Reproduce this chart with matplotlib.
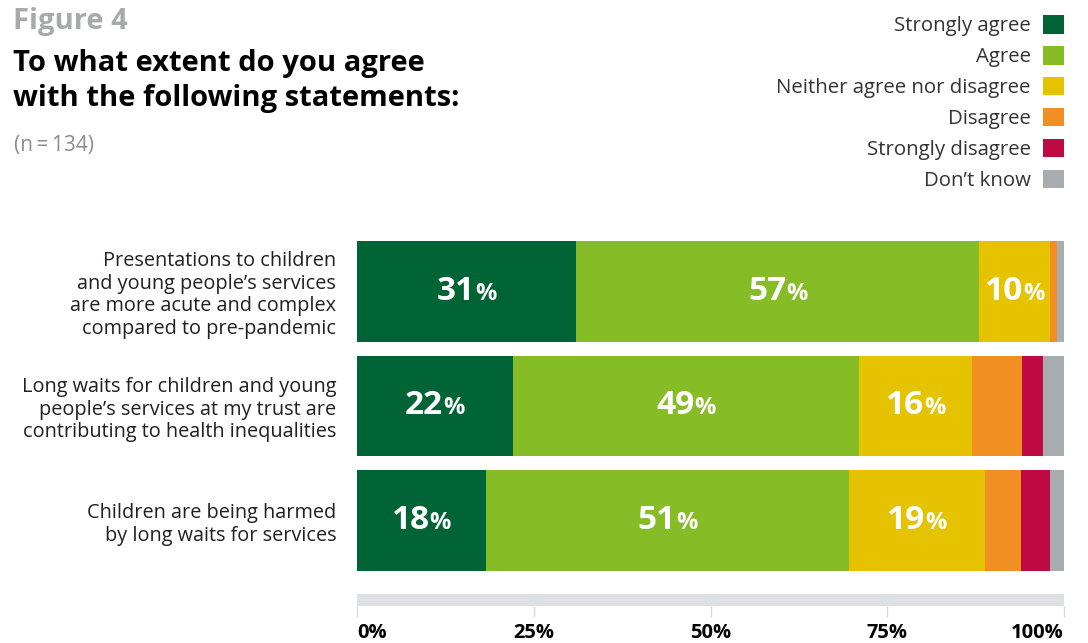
"""Stacked 100% bar chart: agreement with statements about children's services."""

import matplotlib

matplotlib.use("Agg")
import matplotlib.pyplot as plt  # noqa: E402
from matplotlib.offsetbox import AnnotationBbox, HPacker, TextArea  # noqa: E402
from matplotlib.patches import Patch  # noqa: E402

plt.rcParams["font.family"] = ["Open Sans", "DejaVu Sans"]

# ---- data -----------------------------------------------------------------
statements = [
    "Presentations to children\nand young people\u2019s services\nare more acute and complex\ncompared to pre-pandemic",
    "Long waits for children and young\npeople\u2019s services at my trust are\ncontributing to health inequalities",
    "Children are being harmed\nby long waits for services",
]
responses = [
    "Strongly agree",
    "Agree",
    "Neither agree nor disagree",
    "Disagree",
    "Strongly disagree",
    "Don\u2019t know",
]
strongly_agree = [31, 22, 18.2]
agree = [57, 49, 51.4]
neither = [10, 16, 19.2]
disagree = [1, 7, 5.1]
strongly_disagree = [0, 3, 4.1]
dont_know = [1, 3, 2.0]
x_ticks = [0, 25, 50, 75, 100]

series = [strongly_agree, agree, neither, disagree, strongly_disagree, dont_know]
colors = ["#006437", "#86bc25", "#e5c300", "#f18f22", "#be0a43", "#a9acaf"]

W, H = 1088, 643
fig = plt.figure(figsize=(W / 100, H / 100), dpi=100)


def fx(px):
    return px / W


def fy(py):
    return 1 - py / H


# ---- titles ---------------------------------------------------------------
fig.text(fx(13), fy(21), "Figure 4", fontsize=21, fontweight="bold",
         color="#a7a9ac", va="center", ha="left")
fig.text(fx(13), fy(81), "To what extent do you agree\nwith the following statements:",
         fontsize=21, fontweight="bold", color="#000000", va="center",
         ha="left", linespacing=1.26)
fig.text(fx(14), fy(145), "(n\u2009=\u2009134)", fontsize=15, color="#8a8c8e",
         va="center", ha="left")

# ---- bars -----------------------------------------------------------------
ax = fig.add_axes([fx(357), fy(571), fx(1064 - 357), (571 - 241) / H])
ypos = list(range(len(statements)))
left = [0.0] * len(statements)
for vals, color in zip(series, colors):
    ax.barh(ypos, vals, left=left, height=0.88, color=color, linewidth=0)
    for i, v in enumerate(vals):
        if v >= 10:
            num = TextArea(f"{v:.0f}", textprops=dict(color="white", fontsize=24,
                                                      fontweight="bold"))
            pct = TextArea("%", textprops=dict(color="white", fontsize=17,
                                               fontweight="bold"))
            box = HPacker(children=[num, pct], align="baseline", pad=0, sep=0)
            ab = AnnotationBbox(box, (left[i] + v / 2, i), frameon=False,
                                box_alignment=(0.5, 0.5), pad=0)
            ax.add_artist(ab)
    left = [l + v for l, v in zip(left, vals)]

ax.set_xlim(0, 100)
ax.set_ylim(2.44, -0.44)
ax.set_yticks(ypos)
ax.set_yticklabels(statements, fontsize=14.3, color="#231f20", linespacing=1.17)
ax.tick_params(axis="y", length=0, pad=15)
ax.set_xticks([])
for s in ax.spines.values():
    s.set_visible(False)

# ---- scale band -----------------------------------------------------------
axb = fig.add_axes([fx(357), fy(606), fx(1064 - 357), 12 / H])
axb.set_facecolor("#dde1e4")
axb.set_xlim(0, 100)
axb.set_yticks([])
axb.set_xticks(x_ticks)
axb.set_xticklabels([f"{t}%" for t in x_ticks], fontsize=14.5, fontweight="bold",
                    color="#000000")
axb.tick_params(axis="x", length=8, width=1, color="#d6dadd", pad=4)
labels = axb.get_xticklabels()
labels[0].set_ha("left")
labels[0].set_x(-1.2)
labels[-1].set_ha("right")
labels[-1].set_x(100.8)
for s in axb.spines.values():
    s.set_visible(False)

# ---- legend ---------------------------------------------------------------
handles = [Patch(facecolor=c, edgecolor="none") for c in colors]
fig.legend(handles, responses, loc="upper right",
           bbox_to_anchor=(fx(1064), fy(15)), frameon=False, markerfirst=False,
           fontsize=14.7, handlelength=1.03, handleheight=1.03,
           handletextpad=0.6, labelspacing=0.47, borderpad=0, borderaxespad=0,
           labelcolor="#333333")

fig.savefig("out.png", dpi=100)
